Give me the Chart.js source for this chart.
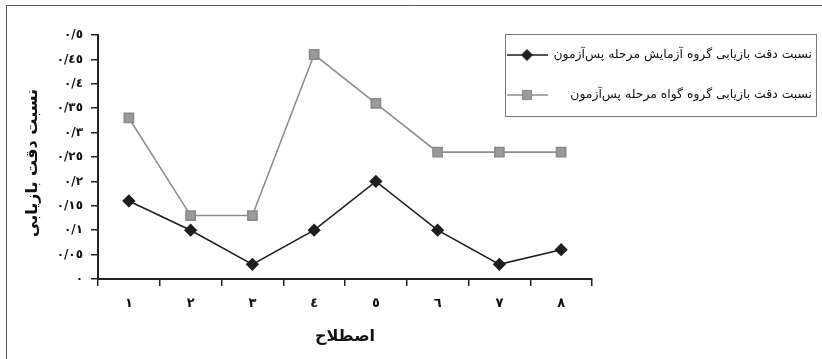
<!DOCTYPE html>
<html>
<head>
<meta charset="utf-8">
<script src="https://cdn.jsdelivr.net/npm/chart.js@4.4.1/dist/chart.umd.min.js"></script>
<style>
  html, body { margin: 0; padding: 0; background: #fff; }
  #wrap { position: relative; width: 822px; height: 359px; }
</style>
</head>
<body>
<div id="wrap"><canvas id="recall" width="822" height="359"></canvas></div>
<script>
// داده‌های نمودار
var categories = ["١", "٢", "٣", "٤", "٥", "٦", "٧", "٨"];
var seriesNames = [
    "نسبت دقت بازیابی گروه آزمایش مرحله پس‌آزمون",
    "نسبت دقت بازیابی گروه گواه مرحله پس‌آزمون"
];
var experimentValues = [0.16, 0.10, 0.03, 0.10, 0.20, 0.10, 0.03, 0.06];
var controlValues = [0.33, 0.13, 0.13, 0.46, 0.36, 0.26, 0.26, 0.26];
var yTickLabels = ["٠", "٠/٠٥", "٠/١", "٠/١٥", "٠/٢", "٠/٢٥", "٠/٣", "٠/٣٥", "٠/٤", "٠/٤٥", "٠/٥"];
var yTitle = "نسبت دقت بازیابی";
var xTitle = "اصطلاح";

var FONT = "'DejaVu Sans', sans-serif";

// قاب، عنوان محورها و راهنما
var decorations = {
    id: 'decorations',
    beforeDraw: function (chart) {
        var ctx = chart.ctx;
        ctx.save();
        ctx.fillStyle = '#fff';
        ctx.fillRect(0, 0, chart.width, chart.height);
        ctx.strokeStyle = '#555';
        ctx.lineWidth = 1;
        ctx.beginPath();
        ctx.moveTo(6.5, chart.height);
        ctx.lineTo(6.5, 5.5);
        ctx.lineTo(chart.width, 5.5);
        ctx.stroke();
        ctx.restore();
    },
    afterDraw: function (chart) {
        var ctx = chart.ctx;
        var area = chart.chartArea;
        ctx.save();
        ctx.fillStyle = '#111';
        ctx.font = 'bold 16px ' + FONT;
        ctx.textAlign = 'center';
        ctx.textBaseline = 'middle';
        ctx.direction = 'rtl';
        ctx.fillText(xTitle, (area.left + area.right) / 2, 337);
        ctx.translate(33, 163);
        ctx.rotate(-Math.PI / 2);
        ctx.fillText(yTitle, 0, 0);
        ctx.restore();

        // راهنما
        ctx.save();
        ctx.strokeStyle = '#777';
        ctx.lineWidth = 1;
        ctx.strokeRect(505.5, 34.5, 311, 82);
        // اندازه قلم طوری که سطر اول در فاصله ۵۵۱ تا ۸۱۲ جا شود
        ctx.font = '14px ' + FONT;
        var w = ctx.measureText(seriesNames[0]).width;
        var size = Math.min(14, 14 * 259 / w);
        var rows = [55, 95];
        chart.data.datasets.forEach(function (ds, i) {
            var y = rows[i];
            ctx.strokeStyle = ds.borderColor;
            ctx.lineWidth = ds.borderWidth;
            ctx.beginPath();
            ctx.moveTo(507, y);
            ctx.lineTo(548, y);
            ctx.stroke();
            ctx.fillStyle = ds.pointBackgroundColor;
            ctx.strokeStyle = ds.pointBorderColor;
            ctx.lineWidth = 1;
            ctx.beginPath();
            if (ds.pointStyle === 'rectRot') {
                var r = ds.pointRadius;
                ctx.moveTo(527 - r, y);
                ctx.lineTo(527, y - r);
                ctx.lineTo(527 + r, y);
                ctx.lineTo(527, y + r);
                ctx.closePath();
            } else {
                var s = ds.pointRadius * Math.SQRT1_2;
                ctx.rect(527 - s, y - s, 2 * s, 2 * s);
            }
            ctx.fill();
            ctx.stroke();
            ctx.fillStyle = '#111';
            ctx.font = size + 'px ' + FONT;
            ctx.textAlign = 'right';
            ctx.textBaseline = 'middle';
            ctx.direction = 'rtl';
            ctx.fillText(ds.label, 812, y);
        });
        ctx.restore();
    }
};

var recall = document.getElementById("recall");
var recallChart = new Chart(recall, {
    type: 'line',
    data: {
        labels: categories,
        datasets: [{
            label: seriesNames[0],
            data: experimentValues,
            borderColor: '#1e1e1e',
            borderWidth: 1.6,
            pointStyle: 'rectRot',
            pointRadius: 5.5,
            pointBackgroundColor: '#1e1e1e',
            pointBorderColor: '#1e1e1e',
            tension: 0
        }, {
            label: seriesNames[1],
            data: controlValues,
            borderColor: '#8e8e8e',
            borderWidth: 1.6,
            pointStyle: 'rect',
            pointRadius: 6.5,
            pointBackgroundColor: '#9a9a9a',
            pointBorderColor: '#8a8a8a',
            tension: 0
        }]
    },
    options: {
        responsive: false,
        animation: false,
        layout: {
            padding: { left: 0, right: 230, top: 35, bottom: 0 }
        },
        plugins: {
            legend: { display: false },
            tooltip: { enabled: false }
        },
        scales: {
            x: {
                offset: true,
                afterFit: function (scale) { scale.height = 80; },
                grid: {
                    offset: true,
                    drawOnChartArea: false,
                    tickLength: 7,
                    color: '#222',
                    lineWidth: 1.5
                },
                border: { color: '#222', width: 2 },
                ticks: {
                    color: '#111',
                    padding: 10,
                    font: { family: FONT, size: 13, weight: 'bold' }
                }
            },
            y: {
                min: 0,
                max: 0.5,
                afterFit: function (scale) { scale.width = 98; },
                grid: {
                    drawOnChartArea: false,
                    tickLength: 7,
                    color: '#222',
                    lineWidth: 1.5
                },
                border: { color: '#222', width: 2 },
                ticks: {
                    stepSize: 0.05,
                    color: '#111',
                    padding: 8,
                    font: { family: FONT, size: 12, weight: 'bold' },
                    callback: function (value, index) {
                        return yTickLabels[index];
                    }
                }
            }
        }
    },
    plugins: [decorations]
});
</script>
</body>
</html>
